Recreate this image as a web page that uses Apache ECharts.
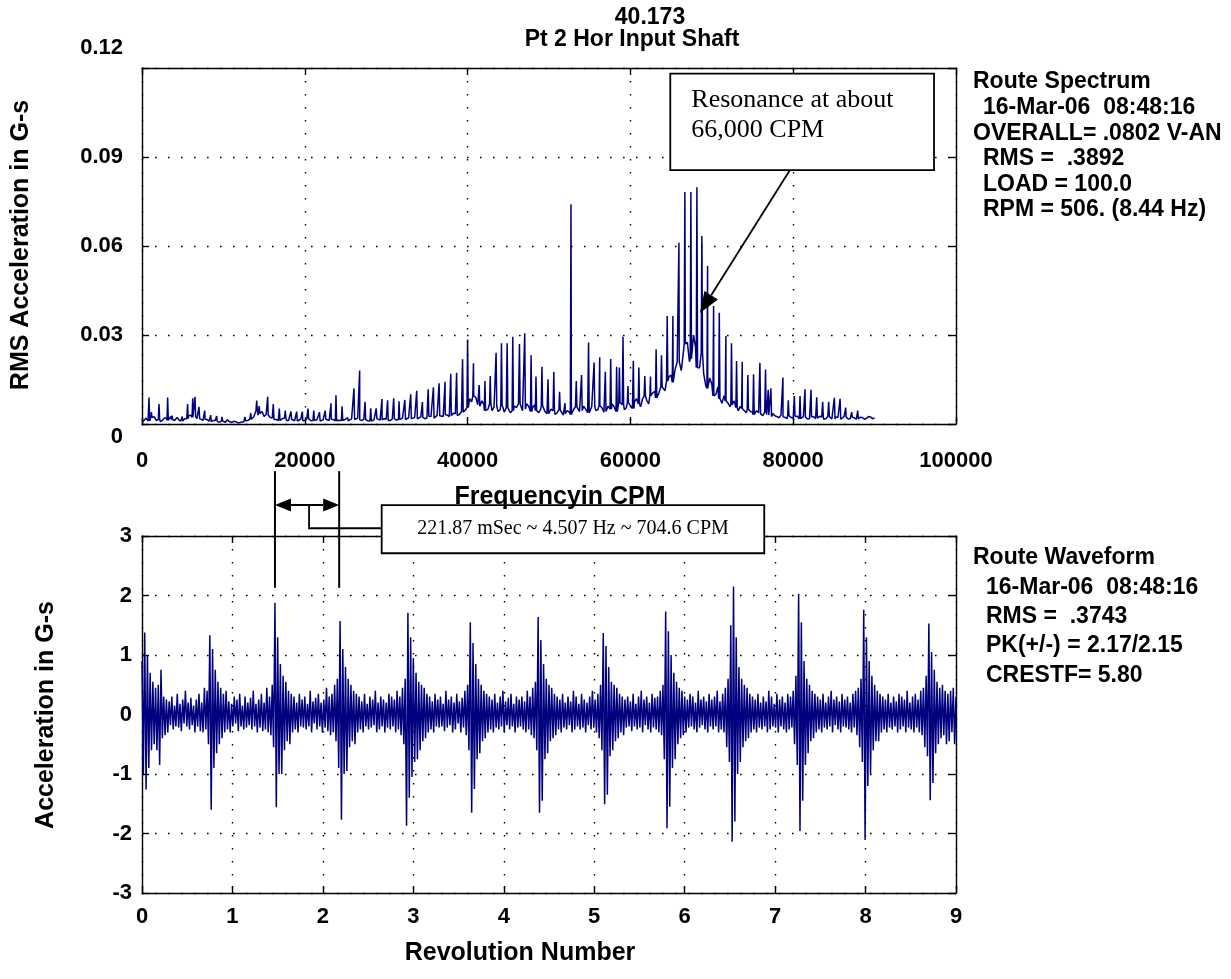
<!DOCTYPE html>
<html><head><meta charset="utf-8">
<script src="https://cdn.jsdelivr.net/npm/echarts@6/dist/echarts.min.js"></script>
<style>html,body{margin:0;padding:0;background:#fff}#c{width:1231px;height:979px}</style>
</head><body><div id="c"></div>
<script>
// ---------- DATA ----------
const specXLabels = ['0','20000','40000','60000','80000','100000'];
const specYLabels = ['0','0.03','0.06','0.09','0.12'];
const revLabels = ['0','1','2','3','4','5','6','7','8','9'];
const accelLabels = ['-3','-2','-1','0','1','2','3'];

// spectrum noise floor, one value every 250 CPM from 0 to 90000
const spectrumFloorStep = 250;
const spectrumFloor = [
0.0005,0.0012,0.002,0.001,0.0012,0.0022,0.0025,0.0012,0.0015,0.0008,0.0012,0.002,0.002,0.0012,0.0025,0.0015,0.0012,0.0018,0.0015,0.001,
0.001,0.0018,0.0018,0.0028,0.003,0.0022,0.0025,0.0018,0.0018,0.0012,0.0012,0.0016,0.0015,0.001,0.0008,0.0012,0.0012,0.0008,0.0006,0.001,
0.001,0.0006,0.0014,0.0008,0.0005,0.0009,0.0008,0.0004,0.0004,0.0007,0.0007,0.0011,0.0012,0.0016,0.0018,0.0025,0.0045,0.003,0.0035,0.0042,
0.0025,0.0032,0.003,0.0022,0.002,0.0015,0.0015,0.0012,0.0012,0.0018,0.002,0.0012,0.0012,0.0016,0.0018,0.0011,0.001,0.0015,0.0016,0.0011,
0.0012,0.0017,0.0018,0.0011,0.0012,0.0016,0.0015,0.001,0.001,0.0014,0.0016,0.0011,0.0012,0.0016,0.0015,0.0011,0.001,0.0013,0.0012,0.0016,
0.0016,0.0011,0.0012,0.0017,0.0015,0.0012,0.002,0.0014,0.0012,0.0016,0.0015,0.0011,0.001,0.0016,0.0014,0.0018,0.0018,0.0013,0.0014,0.0018,
0.0016,0.0012,0.0012,0.0017,0.0018,0.0013,0.0015,0.002,0.002,0.0015,0.0016,0.0021,0.0018,0.0023,0.0022,0.0017,0.0018,0.0024,0.0022,0.0018,
0.002,0.0026,0.0025,0.002,0.0022,0.0029,0.0028,0.0023,0.0025,0.0031,0.003,0.0025,0.0028,0.0036,0.0035,0.0029,0.0032,0.0042,0.004,0.0048,
0.0055,0.0085,0.0075,0.0095,0.009,0.0065,0.006,0.0078,0.0065,0.0045,0.005,0.0068,0.0045,0.0058,0.006,0.0042,0.0048,0.0065,0.004,0.0055,
0.005,0.0038,0.0045,0.006,0.0055,0.0068,0.0065,0.0045,0.005,0.0068,0.006,0.0042,0.0055,0.0065,0.0045,0.0038,0.0052,0.0062,0.0042,0.0035,
0.0035,0.005,0.0045,0.0032,0.0038,0.0048,0.0042,0.003,0.0035,0.0045,0.004,0.0032,0.0048,0.0058,0.0055,0.0042,0.0045,0.006,0.005,0.0038,
0.0042,0.0058,0.006,0.0045,0.0048,0.0062,0.0055,0.004,0.0042,0.006,0.005,0.0068,0.0058,0.0042,0.0045,0.0072,0.0065,0.0048,0.0055,0.0072,
0.0062,0.0052,0.0075,0.0085,0.0068,0.0058,0.0085,0.0095,0.008,0.0068,0.0095,0.0105,0.011,0.0088,0.0105,0.0125,0.013,0.0112,0.0145,0.016,
0.0165,0.014,0.0185,0.021,0.021,0.018,0.024,0.027,0.0275,0.021,0.022,0.03,0.026,0.019,0.019,0.024,0.017,0.013,0.012,0.0155,
0.0135,0.0095,0.01,0.0125,0.0085,0.007,0.0095,0.0078,0.007,0.0058,0.0065,0.0078,0.0055,0.0045,0.006,0.0052,0.0045,0.0038,0.005,0.0042,
0.004,0.0032,0.0045,0.0038,0.0035,0.0028,0.004,0.0032,0.003,0.0025,0.0035,0.0028,0.0025,0.0021,0.003,0.0025,0.0022,0.0018,0.0028,0.0022,
0.002,0.0026,0.0026,0.0018,0.002,0.0025,0.0024,0.0017,0.0018,0.0024,0.0025,0.0018,0.002,0.0026,0.0023,0.0016,0.0018,0.0025,0.0024,0.0017,
0.0017,0.0024,0.0022,0.0016,0.0019,0.0025,0.0024,0.0017,0.0018,0.0023,0.0021,0.0016,0.0017,0.0023,0.0022,0.0016,0.0019,0.0025,0.0024,0.0018,
0.002
];
// spectral lines [CPM, G-s]
const spectrumPeaks = [
[860,0.0089],[1150,0.004],[2090,0.0067],[3150,0.0089],[3700,0.0028],[4300,0.0022],[4950,0.0025],
[5600,0.0067],[6230,0.0087],[6510,0.0092],[7000,0.0058],[7700,0.0045],[8440,0.003],[9170,0.0027],
[9830,0.0024],[10570,0.002],[12650,0.0024],[13350,0.0037],[14090,0.0079],[14400,0.006],[15440,0.0092],
[16130,0.0067],[16870,0.0052],[17600,0.0045],[18300,0.0042],[19000,0.0042],[19700,0.0042],[20390,0.0052],
[21100,0.0045],[21800,0.004],[22500,0.0045],[23220,0.007],[23830,0.0097],[24580,0.006],[25250,0.0022],
[26040,0.012],[26740,0.018],[27400,0.0075],[28100,0.0053],[28770,0.0053],[29480,0.0084],[30170,0.008],
[30920,0.0087],[31580,0.0077],[32290,0.0081],[33010,0.010],[33750,0.0112],[34450,0.0074],[35160,0.0117],
[35800,0.0124],[36500,0.0137],[37230,0.0142],[37930,0.0169],[38650,0.0173],[39380,0.0218],[40000,0.0285],
[40720,0.0205],[41420,0.0131],[42130,0.0145],[42780,0.0162],[43500,0.024],[44160,0.0272],[44860,0.0272],
[45550,0.0294],[46370,0.027],[47020,0.0306],[47800,0.0232],[48400,0.016],[49130,0.0193],[49880,0.0151],
[50590,0.0175],[51300,0.0109],[51970,0.007],[52700,0.0741],[53350,0.0145],[54000,0.0165],[54860,0.0275],
[55540,0.0207],[56230,0.0225],[56920,0.0176],[57580,0.0219],[58310,0.0193],[58650,0.019],[59090,0.0294],
[59700,0.0128],[60360,0.0213],[61040,0.019],[61770,0.0162],[62470,0.016],[63160,0.0252],[63820,0.0232],
[64520,0.0364],[65220,0.0364],[65960,0.0611],[66690,0.0782],[67430,0.0782],[68170,0.0798],[68780,0.0634],
[69480,0.0533],[70220,0.0398],[70920,0.0375],[71730,0.0297],[72420,0.0272],[73040,0.0212],[73740,0.021],
[74430,0.0165],[75130,0.0168],[75910,0.0206],[76600,0.0184],[76930,0.0115],[77260,0.012],[78740,0.0157],
[79400,0.008],[80140,0.0094],[80840,0.0094],[81450,0.0117],[82190,0.0115],[82890,0.009],[83620,0.0075],
[84360,0.0075],[85060,0.0088],[85760,0.0085],[86450,0.0055],[87190,0.004],[87930,0.0045]
];

// waveform samples, one every 0.015 revolution from 0 to 9
const waveStep = 0.015;
const waveform = [
0.9,-1.0,1.38,-1.26,1.0,-0.9,0.7,-0.6,0.55,-0.5,0.45,-0.6,0.5,-0.85,0.75,-0.4,0.3,-0.35,0.25,-0.3,
0.22,-0.18,0.3,-0.25,0.15,-0.2,0.35,-0.22,0.18,-0.28,0.25,-0.15,0.4,-0.2,0.2,-0.25,0.28,-0.18,0.15,-0.3,
0.25,-0.2,0.35,-0.28,0.2,-0.3,0.45,-0.25,0.4,-0.5,1.33,-1.6,1.1,-0.9,0.75,-0.65,0.55,-0.5,0.45,-0.4,
0.35,-0.3,0.4,-0.25,0.22,-0.3,0.18,-0.2,0.3,-0.15,0.25,-0.28,0.35,-0.2,0.15,-0.25,0.3,-0.22,0.2,-0.18,
0.28,-0.25,0.4,-0.2,0.18,-0.3,0.25,-0.22,0.35,-0.28,0.2,-0.25,0.45,-0.3,0.3,-0.35,0.5,-0.55,1.88,-1.56,
1.3,-1.0,0.85,-1.0,0.65,-0.6,0.55,-0.45,0.4,-0.5,0.35,-0.3,0.3,-0.25,0.2,-0.3,0.35,-0.2,0.25,-0.22,
0.3,-0.25,0.18,-0.2,0.4,-0.3,0.22,-0.15,0.28,-0.25,0.35,-0.2,0.2,-0.3,0.25,-0.22,0.45,-0.28,0.3,-0.35,
0.35,-0.3,0.5,-0.45,0.6,-0.9,1.57,-1.77,1.1,-1.0,0.8,-0.95,0.6,-0.55,0.5,-0.45,0.4,-0.5,0.35,-0.3,
0.3,-0.25,0.22,-0.3,0.35,-0.2,0.18,-0.25,0.3,-0.22,0.25,-0.18,0.4,-0.3,0.2,-0.25,0.3,-0.2,0.25,-0.3,
0.2,-0.22,0.35,-0.25,0.3,-0.2,0.25,-0.3,0.4,-0.25,0.3,-0.35,0.45,-0.5,0.6,-1.87,1.71,-1.4,1.3,-1.05,
0.95,-0.8,0.7,-0.75,0.55,-0.6,0.5,-0.45,0.45,-0.4,0.35,-0.3,0.3,-0.25,0.22,-0.3,0.35,-0.2,0.25,-0.22,
0.3,-0.2,0.18,-0.28,0.4,-0.22,0.25,-0.18,0.3,-0.3,0.2,-0.25,0.35,-0.15,0.22,-0.3,0.28,-0.22,0.4,-0.35,
0.5,-0.6,1.55,-1.65,1.2,-1.25,0.85,-0.75,0.6,-0.65,0.5,-0.45,0.4,-0.4,0.35,-0.3,0.3,-0.25,0.25,-0.3,
0.35,-0.22,0.2,-0.25,0.3,-0.2,0.4,-0.3,0.22,-0.18,0.28,-0.25,0.35,-0.2,0.18,-0.3,0.3,-0.22,0.25,-0.2,
0.3,-0.25,0.22,-0.3,0.4,-0.25,0.3,-0.35,0.45,-0.4,0.55,-0.6,1.64,-1.65,1.25,-1.45,0.85,-0.75,0.6,-0.65,
0.5,-0.45,0.45,-0.4,0.35,-0.35,0.3,-0.25,0.25,-0.3,0.35,-0.22,0.2,-0.25,0.3,-0.18,0.22,-0.3,0.4,-0.25,
0.3,-0.2,0.18,-0.25,0.35,-0.22,0.25,-0.3,0.2,-0.18,0.3,-0.25,0.4,-0.22,0.25,-0.3,0.35,-0.4,0.5,-0.6,
1.37,-1.51,1.15,-1.35,0.8,-0.7,0.55,-0.6,0.5,-0.45,0.45,-0.4,0.35,-0.3,0.3,-0.35,0.25,-0.22,0.3,-0.2,
0.22,-0.28,0.35,-0.2,0.18,-0.25,0.3,-0.22,0.4,-0.3,0.25,-0.18,0.3,-0.25,0.2,-0.3,0.35,-0.22,0.28,-0.25,
0.3,-0.3,0.4,-0.35,0.5,-0.75,1.73,-1.91,1.4,-1.55,1.0,-0.9,0.7,-0.75,0.55,-0.5,0.45,-0.4,0.4,-0.35,
0.3,-0.3,0.25,-0.22,0.35,-0.2,0.3,-0.25,0.2,-0.3,0.4,-0.22,0.25,-0.18,0.3,-0.25,0.22,-0.3,0.35,-0.2,
0.25,-0.25,0.3,-0.2,0.4,-0.3,0.22,-0.25,0.35,-0.3,0.45,-0.55,0.6,-0.8,1.5,-2.14,2.15,-1.8,1.3,-1.0,
0.8,-0.8,0.6,-0.55,0.5,-0.45,0.45,-0.4,0.35,-0.3,0.3,-0.25,0.25,-0.3,0.35,-0.22,0.2,-0.25,0.3,-0.2,
0.22,-0.3,0.4,-0.25,0.3,-0.2,0.18,-0.22,0.35,-0.3,0.25,-0.2,0.3,-0.25,0.2,-0.3,0.35,-0.25,0.3,-0.22,
0.4,-0.5,0.65,-0.85,2.03,-1.96,1.55,-1.45,0.9,-0.85,0.6,-0.65,0.5,-0.45,0.4,-0.4,0.35,-0.3,0.3,-0.25,
0.25,-0.3,0.35,-0.22,0.2,-0.25,0.3,-0.2,0.4,-0.3,0.25,-0.18,0.3,-0.25,0.22,-0.3,0.35,-0.2,0.25,-0.22,
0.3,-0.25,0.2,-0.3,0.35,-0.22,0.4,-0.35,0.45,-0.55,0.6,-0.8,1.76,-2.11,1.3,-1.2,0.9,-1.0,0.65,-0.6,
0.5,-0.45,0.4,-0.45,0.35,-0.3,0.3,-0.25,0.25,-0.3,0.35,-0.22,0.2,-0.25,0.3,-0.2,0.22,-0.3,0.35,-0.25,
0.3,-0.2,0.25,-0.3,0.4,-0.22,0.2,-0.25,0.3,-0.3,0.35,-0.22,0.25,-0.3,0.4,-0.35,0.45,-0.55,0.65,-0.7,
1.53,-1.44,1.05,-1.15,0.75,-0.65,0.55,-0.5,0.45,-0.4,0.5,-0.35,0.4,-0.5,0.35,-0.45,0.4,-0.3,0.45,-0.5,
0.3
];

const titleLines = ['40.173','Pt 2 Hor Input Shaft'];
const spectrumInfo = ['Route Spectrum','  16-Mar-06  08:48:16','OVERALL= .0802 V-AN','  RMS =  .3892','  LOAD = 100.0','  RPM = 506. (8.44 Hz)'];
const waveInfo = ['Route Waveform','  16-Mar-06  08:48:16','  RMS =  .3743','  PK(+/-) = 2.17/2.15','  CRESTF= 5.80'];
const resonanceNote = ['Resonance at about','66,000 CPM'];
const periodNote = '221.87 mSec ~ 4.507 Hz ~ 704.6 CPM';
// annotation anchors in data units
const resonanceBox = [[64900,0.1181],[97300,0.0856]];
const resonanceArrow = [[79600,0.0856],[68550,0.0374]];
const periodMarks = [1.47, 2.18];        // revolutions
const periodBox = [[2.65,3.52],[6.88,2.71]];

// ---------- BUILD ----------
const specPts = spectrumFloor.map((v,i)=>[i*spectrumFloorStep, v]);
spectrumPeaks.forEach(([f,a])=>{
  const base = spectrumFloor[Math.round(f/spectrumFloorStep)];
  specPts.push([f-80, base],[f,a],[f+80, base]);
});
specPts.sort((p,q)=>p[0]-q[0]);
const wavePts = waveform.map((v,i)=>[+(i*waveStep).toFixed(4), v]);

const FONT = '"Liberation Sans", Arial, sans-serif';
const NAVY = '#00007f';
const dotted = {color:'#000', width:1.4, type:[1.6,11.4]};
const lbl = {color:'#000', fontFamily:FONT, fontWeight:'bold', fontSize:22};

function xAx(grid, min, max, interval, labels, margin, pos){
  const main = pos==='bottom';
  return {type:'value', gridIndex:grid, position:pos, min, max, interval,
    axisLine:{show:true, onZero:false, lineStyle:{color:'#000', width:1.4}},
    axisTick:{show:true, inside:true, length:7, lineStyle:{color:'#000', width:1.4}},
    axisLabel:{show:main, margin, ...lbl, formatter:v=>labels[Math.round((v-min)/interval)]},
    splitLine:{show:main, lineStyle:dotted}};
}
function yAx(grid, min, max, interval, labels, margin, pos, shiftEnds){
  const main = pos==='left';
  const n = labels.length-1;
  return {type:'value', gridIndex:grid, position:pos, min, max, interval,
    axisLine:{show:true, onZero:false, lineStyle:{color:'#000', width:1.4}},
    axisTick:{show:true, inside:true, length:7, lineStyle:{color:'#000', width:1.4}},
    axisLabel:{show:main, margin, ...lbl,
      formatter:v=>{const k=Math.round((v-min)/interval), s=labels[k];
        if(!shiftEnds) return s;
        return k===n ? '{up|'+s+'}' : (k===0 ? '{dn|'+s+'}' : s);},
      rich:{up:{...lbl, padding:[0,0,40,0]}, dn:{...lbl, padding:[26,0,0,0]}}},
    splitLine:{show:main, lineStyle:dotted}};
}

const option = {
  animation:false,
  backgroundColor:'#fff',
  grid:[
    {left:142, top:68, width:814, height:356},
    {left:142, top:536, width:814, height:357}
  ],
  xAxis:[
    xAx(0,0,100000,20000,specXLabels,26,'bottom'),
    xAx(0,0,100000,20000,specXLabels,0,'top'),
    xAx(1,0,9,1,revLabels,13,'bottom'),
    xAx(1,0,9,1,revLabels,0,'top')
  ],
  yAxis:[
    yAx(0,0,0.12,0.03,specYLabels,19,'left',true),
    yAx(0,0,0.12,0.03,specYLabels,0,'right'),
    yAx(1,-3,3,1,accelLabels,10,'left'),
    yAx(1,-3,3,1,accelLabels,0,'right')
  ],
  series:[
    {type:'line', xAxisIndex:0, yAxisIndex:0, data:specPts, showSymbol:false, symbol:'none',
     lineStyle:{color:NAVY, width:1.5}, silent:true, z:3},
    {type:'line', xAxisIndex:2, yAxisIndex:2, data:wavePts, showSymbol:false, symbol:'none',
     lineStyle:{color:NAVY, width:1.5}, silent:true, z:3}
  ]
};

const chart = echarts.init(document.getElementById('c'), null, {renderer:'canvas'});
chart.setOption(option);

const P0 = d=>chart.convertToPixel({seriesIndex:0}, d);
const P1 = d=>chart.convertToPixel({seriesIndex:1}, d);
const SERIF = '"Liberation Serif", "Times New Roman", serif';
function txt(text, x, y, opt){
  opt = opt||{};
  const el = {type:'text', x, y, z:10, silent:true,
    style:Object.assign({text, font:'bold 23px '+FONT, fill:'#000', align:'left', verticalAlign:'middle'}, opt.style||{})};
  if(opt.rotation!==undefined) el.rotation = opt.rotation;
  return el;
}
const g = [];
// titles
g.push(txt(titleLines[0], 650, 18, {style:{align:'center'}}));
g.push(txt(titleLines[1], 632, 40, {style:{align:'center'}}));
// axis names
const NAME = 'bold 25px '+FONT;
g.push(txt('Frequencyin CPM', 560, 497, {style:{align:'center', font:NAME}}));
g.push(txt('Revolution Number', 520, 953, {style:{align:'center', font:NAME}}));
g.push(txt('RMS Acceleration in G-s', 21, 245, {rotation:Math.PI/2, style:{align:'center', font:NAME}}));
g.push(txt('Acceleration in G-s', 46, 715, {rotation:Math.PI/2, style:{align:'center', font:NAME}}));
// info blocks
spectrumInfo.forEach((s,i)=>{
  const ind = s.startsWith('  ');
  g.push(txt(s.trim(), ind?983:973, 82 + i*25.6));
});
waveInfo.forEach((s,i)=>{
  const ind = s.startsWith('  ');
  g.push(txt(s.trim(), ind?986:973, 558 + i*29.3));
});

// resonance callout
{
  const a = P0(resonanceBox[0]), b = P0(resonanceBox[1]);
  g.push({type:'rect', z:9, silent:true, shape:{x:a[0], y:a[1], width:b[0]-a[0], height:b[1]-a[1]},
          style:{fill:'#fff', stroke:'#000', lineWidth:1.8}});
  g.push(txt(resonanceNote[0], a[0]+21, a[1]+27, {style:{font:'26px '+SERIF}}));
  g.push(txt(resonanceNote[1], a[0]+21, a[1]+57, {style:{font:'26px '+SERIF}}));
  const s = P0(resonanceArrow[0]), e = P0(resonanceArrow[1]);
  const ang = Math.atan2(e[1]-s[1], e[0]-s[0]);
  const L = 21, W = 8;
  const bx = e[0]-L*Math.cos(ang), by = e[1]-L*Math.sin(ang);
  g.push({type:'line', z:9, silent:true, shape:{x1:s[0], y1:s[1], x2:bx, y2:by}, style:{stroke:'#000', lineWidth:1.8}});
  g.push({type:'polygon', z:9, silent:true, shape:{points:[e,[bx+W*Math.sin(ang), by-W*Math.cos(ang)],[bx-W*Math.sin(ang), by+W*Math.cos(ang)]]},
          style:{fill:'#000'}});
}
// period annotation
{
  const xa = P1([periodMarks[0],0])[0], xb = P1([periodMarks[1],0])[0];
  const yTop = P1([0,4.09])[1], yBot = P1([0,2.13])[1];
  const yArr = P1([0,3.52])[1];
  [xa,xb].forEach(x=>g.push({type:'line', z:9, silent:true, shape:{x1:x,y1:yTop,x2:x,y2:yBot}, style:{stroke:'#000', lineWidth:2}}));
  const L=16, W=6.5;
  g.push({type:'line', z:9, silent:true, shape:{x1:xa+L,y1:yArr,x2:xb-L,y2:yArr}, style:{stroke:'#000', lineWidth:2}});
  g.push({type:'polygon', z:9, silent:true, shape:{points:[[xa,yArr],[xa+L,yArr-W],[xa+L,yArr+W]]}, style:{fill:'#000'}});
  g.push({type:'polygon', z:9, silent:true, shape:{points:[[xb,yArr],[xb-L,yArr-W],[xb-L,yArr+W]]}, style:{fill:'#000'}});
  const b0 = P1(periodBox[0]), b1 = P1(periodBox[1]);
  const xm = (xa+xb)/2 + 2, yc = P1([0,3.13])[1];
  g.push({type:'polyline', z:9, silent:true, shape:{points:[[xm,yArr],[xm,yc],[b0[0],yc]]}, style:{stroke:'#000', lineWidth:1.8, fill:null}});
  g.push({type:'rect', z:9, silent:true, shape:{x:b0[0], y:b0[1], width:b1[0]-b0[0], height:b1[1]-b0[1]},
          style:{fill:'#fff', stroke:'#000', lineWidth:1.8}});
  g.push(txt(periodNote, (b0[0]+b1[0])/2, (b0[1]+b1[1])/2, {style:{font:'20px '+SERIF, align:'center'}}));
}
chart.setOption({graphic:{elements:g}});
</script></body></html>
